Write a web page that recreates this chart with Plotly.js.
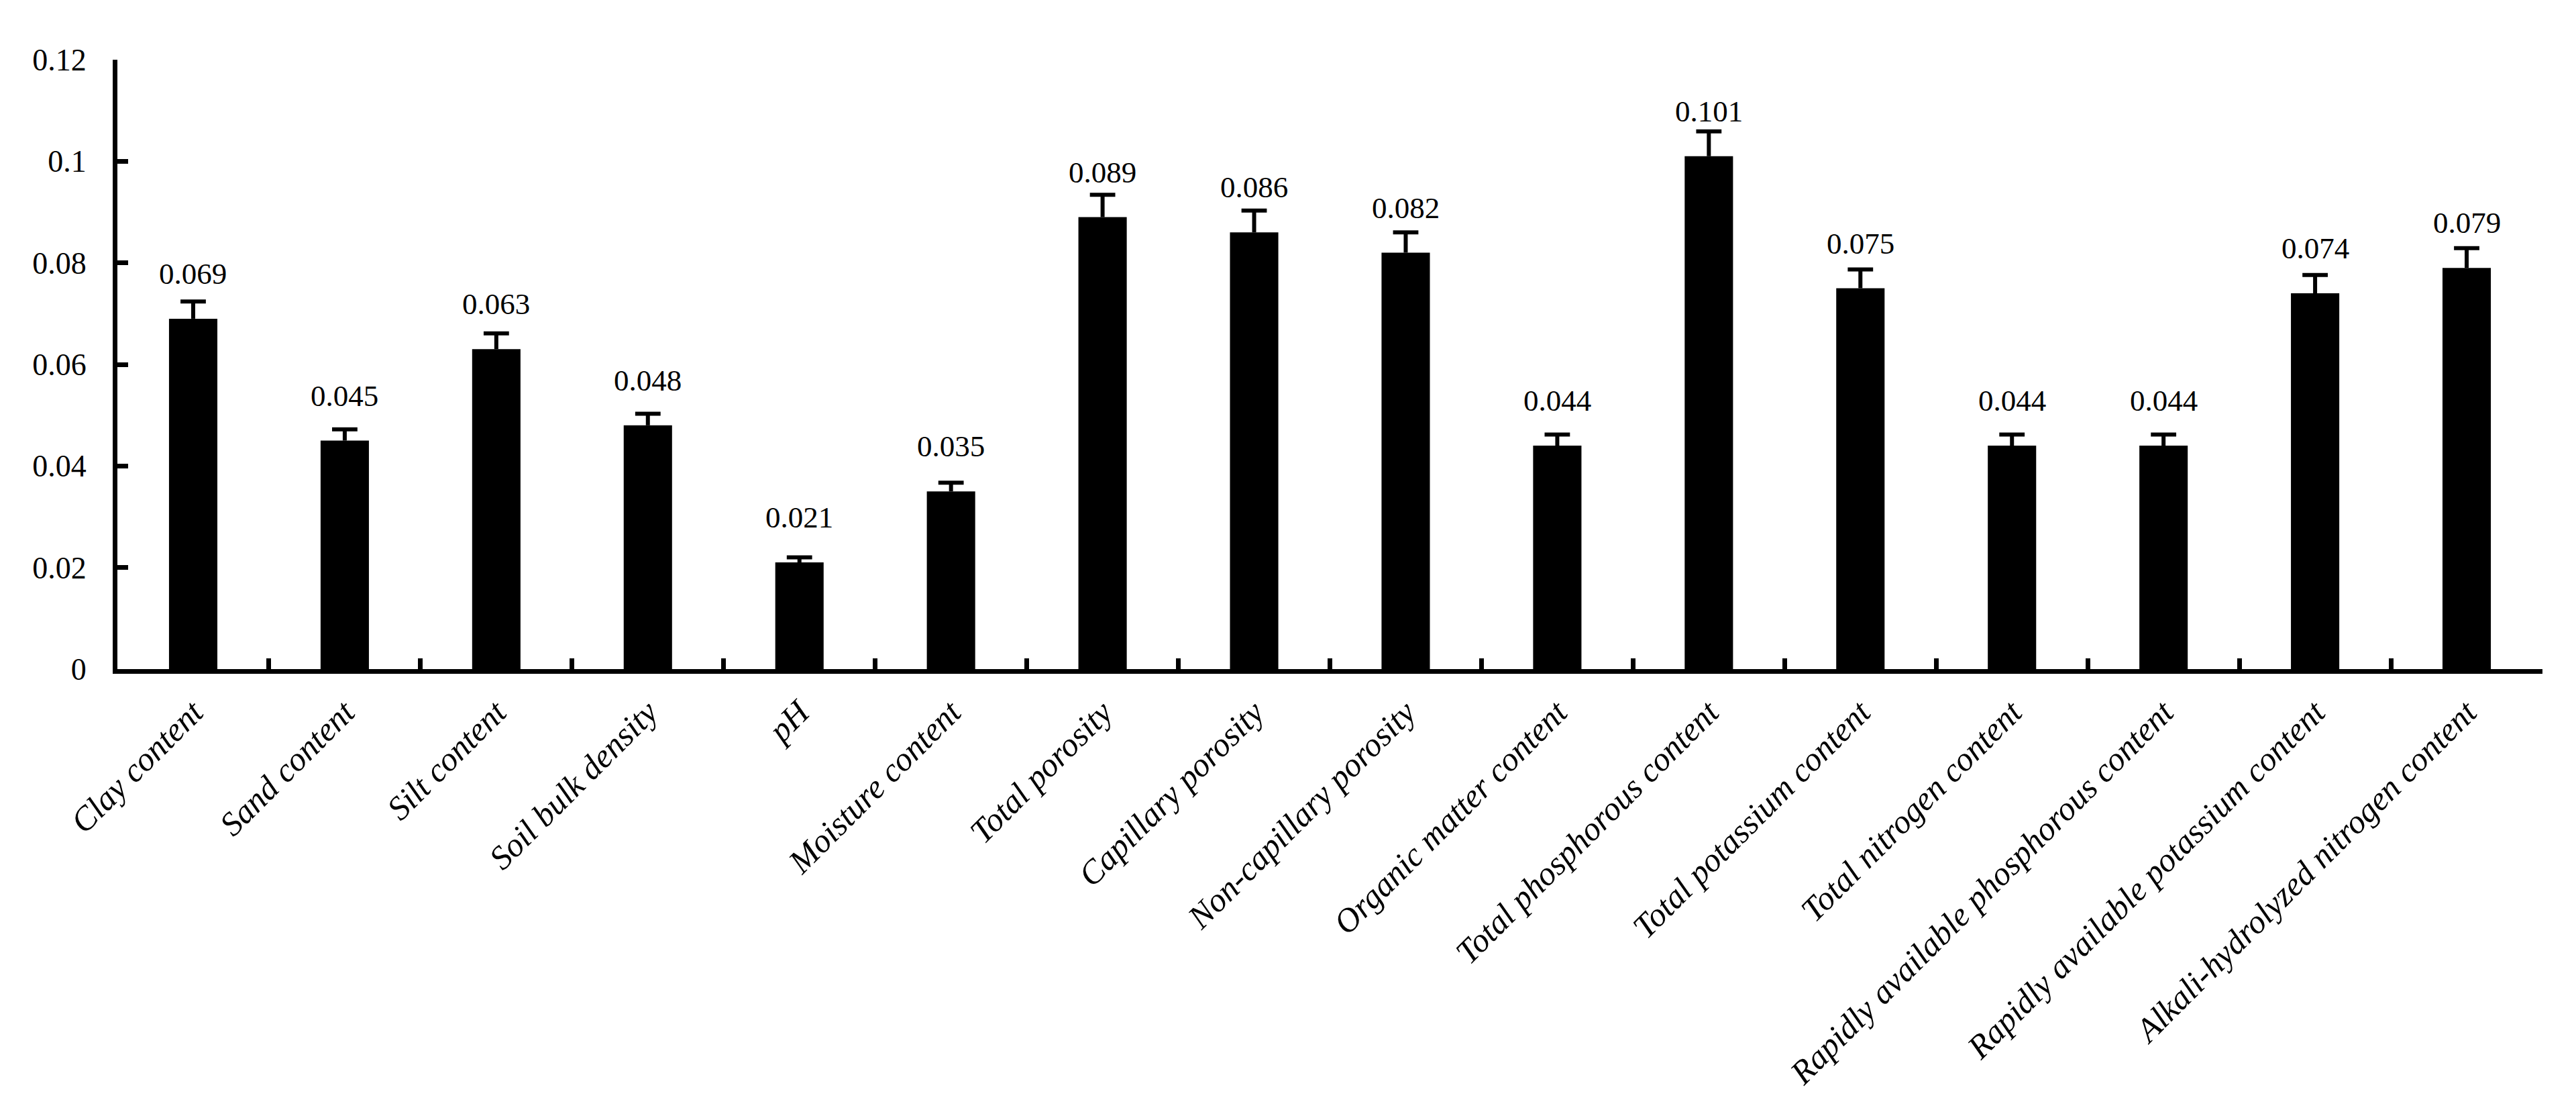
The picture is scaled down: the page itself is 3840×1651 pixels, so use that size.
<!DOCTYPE html>
<html>
<head>
<meta charset="utf-8">
<script src="https://cdn.plot.ly/plotly-3.0.1.min.js"></script>
<style>
  html, body { margin: 0; padding: 0; background: #ffffff; }
  #chart { width: 3840px; height: 1651px; }
</style>
</head>
<body>
<div id="chart"></div>
<script>
const categories = [
  "Clay content",
  "Sand content",
  "Silt content",
  "Soil bulk density",
  "pH",
  "Moisture content",
  "Total porosity",
  "Capillary porosity",
  "Non-capillary porosity",
  "Organic matter content",
  "Total phosphorous content",
  "Total potassium content",
  "Total nitrogen content",
  "Rapidly available phosphorous content",
  "Rapidly available potassium content",
  "Alkali-hydrolyzed nitrogen content"
];
const values = [0.069, 0.045, 0.063, 0.048, 0.021, 0.035, 0.089, 0.086, 0.082, 0.044, 0.101, 0.075, 0.044, 0.044, 0.074, 0.079];
const errors = [0.0034, 0.0022, 0.0031, 0.0023, 0.0010, 0.0017, 0.0044, 0.0043, 0.0040, 0.0022, 0.0049, 0.0037, 0.0022, 0.0022, 0.0036, 0.0039];
const valueLabels = ["0.069", "0.045", "0.063", "0.048", "0.021", "0.035", "0.089", "0.086", "0.082", "0.044", "0.101", "0.075", "0.044", "0.044", "0.074", "0.079"];

const serif = "'Liberation Serif', 'Times New Roman', serif";

// Bars with the error-bar stems (caps drawn separately so no cap sits on the bar top)
const bars = {
  type: "bar",
  x: categories,
  y: values,
  marker: { color: "#000000", line: { width: 0 } },
  error_y: {
    type: "data",
    array: errors,
    symmetric: false,
    arrayminus: errors.map(() => 0),
    visible: true,
    color: "#000000",
    thickness: 6,
    width: 0
  },
  hoverinfo: "none"
};

// Error-bar caps at value + error
const caps = {
  type: "scatter",
  mode: "markers",
  x: categories,
  y: values.map((v, i) => v + errors[i]),
  marker: {
    symbol: "line-ew",
    size: 27,
    color: "#000000",
    line: { color: "#000000", width: 6 }
  },
  hoverinfo: "none",
  cliponaxis: false
};

const annotations = categories.map((c, i) => ({
  x: c,
  y: values[i],
  xref: "x",
  yref: "y",
  text: valueLabels[i],
  showarrow: false,
  xanchor: "center",
  yanchor: "bottom",
  yshift: 40,
  font: { family: serif, size: 45, color: "#000000" }
}));

const layout = {
  width: 3840,
  height: 1651,
  margin: { l: 175, r: 50, t: 89, b: 654 },
  paper_bgcolor: "#ffffff",
  plot_bgcolor: "#ffffff",
  bargap: 0.681,
  showlegend: false,
  font: { family: serif, color: "#000000" },
  xaxis: {
    type: "category",
    range: [-0.5, categories.length - 0.5],
    autorange: false,
    showline: true,
    linecolor: "#000000",
    linewidth: 7,
    ticks: "inside",
    tickson: "boundaries",
    ticklen: 16,
    tickwidth: 7,
    tickcolor: "#000000",
    tickangle: -45,
    showgrid: false,
    zeroline: false,
    tickfont: { family: serif, size: 50, style: "italic", color: "#000000" },
    ticklabelstandoff: 8
  },
  yaxis: {
    range: [0, 0.12],
    autorange: false,
    dtick: 0.02,
    tick0: 0,
    showline: true,
    linecolor: "#000000",
    linewidth: 7,
    ticks: "inside",
    ticklen: 16,
    tickwidth: 7,
    tickcolor: "#000000",
    showgrid: false,
    zeroline: false,
    tickfont: { family: serif, size: 46, color: "#000000" },
    ticklabelstandoff: 30
  },
  annotations: annotations
};

Plotly.newPlot("chart", [bars, caps], layout, { displayModeBar: false, staticPlot: true });
</script>
</body>
</html>
